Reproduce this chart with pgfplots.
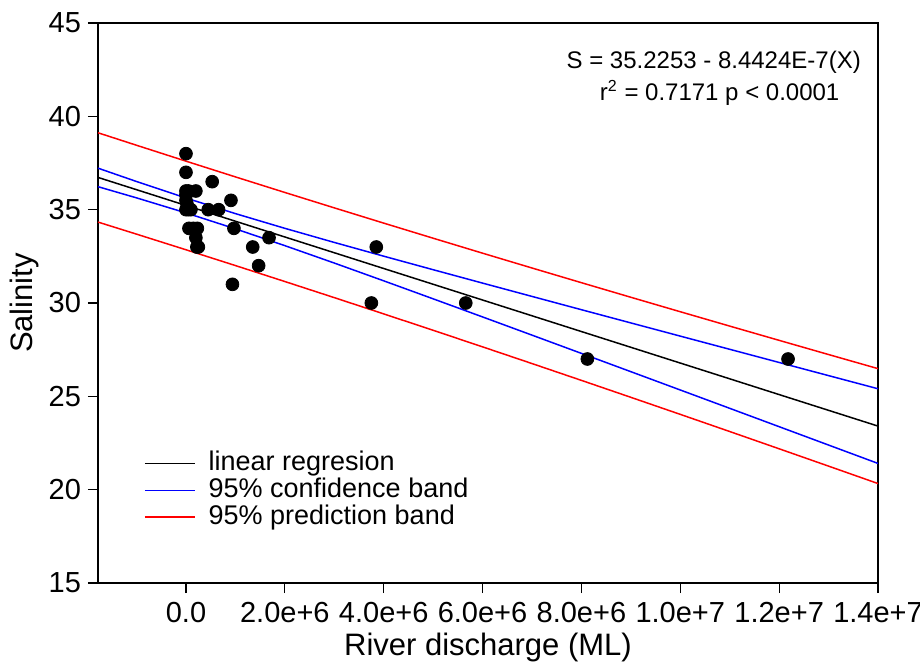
\documentclass[border=0pt]{standalone}
\usepackage{pgfplots}
\pgfplotsset{compat=1.18}
\usepackage{pgfplotstable}
\usepackage{fontspec}
\setmainfont{Liberation Sans}

\pgfplotstableread{
x c cu cl pu pl
-1780000 36.728 37.224 36.232 39.120 34.336
-1000000 36.070 36.508 35.632 38.450 33.689
0 35.225 35.623 34.827 37.599 32.852
1000000 34.381 34.789 33.973 36.756 32.006
2000000 33.537 34.001 33.073 35.922 31.151
3000000 32.693 33.245 32.141 35.097 30.288
4000000 31.848 32.508 31.188 34.280 29.417
5000000 31.004 31.784 30.224 33.471 28.538
6000000 30.160 31.066 29.254 32.669 27.651
7000000 29.316 30.353 28.279 31.875 26.756
8000000 28.471 29.641 27.301 31.088 25.855
9000000 27.627 28.933 26.321 30.307 24.947
10000000 26.783 28.226 25.340 29.532 24.034
11000000 25.939 27.520 24.358 28.763 23.115
12000000 25.094 26.814 23.374 27.999 22.190
13000000 24.250 26.110 22.390 27.239 21.261
14000000 23.406 25.406 21.406 26.484 20.328
}\bands

\pgfplotstableread{
x y
0 38
0 37
0 36
50000 36
200000 36
0 35.8
0 35.5
20000 35.3
0 35
50000 35
100000 35
450000 35
660000 35
530000 36.5
910000 35.5
970000 34
60000 34
150000 34
230000 34
200000 33.5
250000 33
220000 33
1350000 33
1680000 33.5
1470000 32
940000 31
3750000 30
3850000 33
5660000 30
8120000 27
12180000 27
}\pts

\begin{document}
\begin{tikzpicture}
\begin{axis}[
  scale only axis,
  width=390pt, height=280pt,
  at={(0,0)}, anchor=south west,
  xmin=-1780000, xmax=14000000,
  ymin=15, ymax=45,
  scaled x ticks=false,
  xtick={0,2000000,4000000,6000000,8000000,10000000,12000000,14000000},
  xticklabels={0.0,2.0e+6,4.0e+6,6.0e+6,8.0e+6,1.0e+7,1.2e+7,1.4e+7},
  ytick={15,20,25,30,35,40,45},
  tick align=outside,
  major tick length=5pt,
  xtick pos=bottom, ytick pos=left,
  axis line style={line width=0.6pt},
  tick style={line width=0.6pt, black},
  /pgf/number format/assume math mode=true,
  ticklabel style={font=\fontsize{14.5}{16}\selectfont},
  xticklabel style={yshift=-1pt},
  xlabel={River discharge (ML)},
  ylabel={Salinity},
  xlabel style={font=\fontsize{15.5}{18}\selectfont, at={(axis description cs:0.5,-0.116)}, anchor=center},
  ylabel style={font=\fontsize{15.5}{18}\selectfont, at={(axis description cs:-0.094,0.5)}, anchor=center},
  legend style={draw=none, fill=none, at={(axis description cs:0.051,0.243)}, anchor=north west,
    font=\fontsize{13.5}{15}\selectfont,
    nodes={inner sep=0pt, text height=9.8pt, text depth=2.6pt},
    row sep=0.9pt, column sep=6.5pt},
  legend cell align=left,
  legend image code/.code={\draw[#1] (0pt,0pt) -- (25pt,0pt);},
  clip=true,
]
\addplot[black, line width=0.75pt] table[x=x,y=c] {\bands};
\addlegendentry{linear regresion}
\addplot[blue, line width=0.75pt] table[x=x,y=cu] {\bands};
\addlegendentry{95\% confidence band}
\addplot[red, line width=0.75pt] table[x=x,y=pu] {\bands};
\addlegendentry{95\% prediction band}
\addplot[blue, line width=0.75pt, forget plot] table[x=x,y=cl] {\bands};
\addplot[red, line width=0.75pt, forget plot] table[x=x,y=pl] {\bands};
\addplot[only marks, mark=*, mark size=3.2pt, black, forget plot] table[x=x,y=y] {\pts};
\node[anchor=east, font=\fontsize{12}{14}\selectfont] at (axis description cs:0.987,0.929) {S = 35.2253 - 8.4424E-7(X)};
\node[anchor=center, font=\fontsize{12}{14}\selectfont] at (axis description cs:0.797,0.875) {r\textsuperscript{2} = 0.7171 p < 0.0001};
\end{axis}
\pgfresetboundingbox
\path[use as bounding box] (-49pt,-41pt) rectangle (411pt,291.5pt);
\end{tikzpicture}
\end{document}
